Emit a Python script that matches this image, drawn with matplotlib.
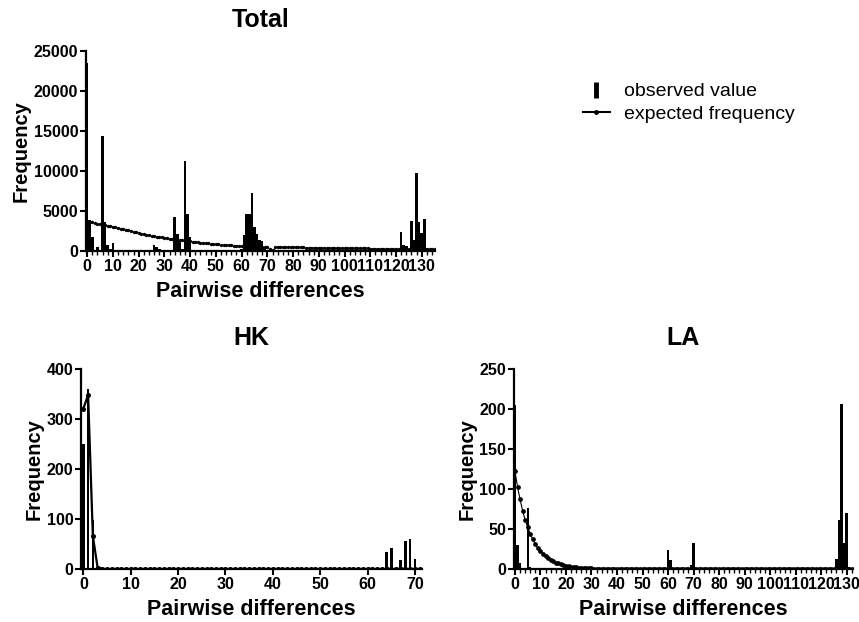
import matplotlib
matplotlib.use('Agg')
import matplotlib.pyplot as plt
from matplotlib.lines import Line2D
from matplotlib.ticker import MultipleLocator

plt.rcParams['font.family'] = ['Liberation Sans', 'DejaVu Sans']

# -----------------------------------------------------------------------
# Data
# -----------------------------------------------------------------------

# Total: observed mismatch counts (non-zero bars only)
total_x = [0, 1, 2, 3, 4, 5, 6, 7, 8, 9, 10, 11,
           26, 27, 28, 29,
           34, 35, 36, 37, 38, 39, 40,
           60, 61, 62, 63, 64, 65, 66, 67, 68, 69, 70,
           122, 123, 124, 125, 126, 127, 128, 129, 130, 131, 132, 133, 134, 135]
total_obs = [23500, 3900, 1750, 100, 500, 150, 14400, 3650, 750, 300, 950, 50,
             750, 450, 300, 100,
             4200, 2100, 1200, 200, 11300, 4600, 1800,
             300, 2000, 4650, 4650, 7250, 2950, 2150, 1350, 1250, 450, 100,
             2400, 750, 650, 200, 3700, 1350, 9750, 3650, 2200, 4050, 350, 150, 150, 150]

# Total: expected frequency at 0..135
total_exp = [3700, 3640, 3570, 3500, 3430, 3360, 3290, 3220, 3150, 3090,
             3030, 2960, 2880, 2800, 2720, 2640, 2560, 2480, 2400, 2320,
             2240, 2160, 2080, 2000, 1950, 1900, 1850, 1800, 1750, 1700,
             1650, 1600, 1550, 1500, 1450, 1410, 1370, 1330, 1290, 1250,
             1210, 1170, 1130, 1090, 1050, 1010, 970, 940, 910, 880,
             850, 820, 790, 760, 740, 720, 700, 680, 660, 640,
             620, 600, 580, 560, 540, 520, 505, 490, 475, 460,
             445, 300, 100, 450, 480, 480,
             470, 466, 462, 458, 454, 450, 446, 441, 436, 431,
             426, 421, 416, 411, 406, 401, 396, 391, 386, 381,
             376, 371, 366, 361, 356, 351, 346, 341, 336, 331,
             326, 321, 316, 311, 306, 301, 296, 291, 286, 281,
             276, 271, 266, 261, 256, 251, 246, 241, 236, 231,
             226, 222, 218, 214, 210, 206, 203, 200, 197, 194]
total_exp_x = list(range(len(total_exp)))

# HK
hk_x = [0, 1, 2, 3, 62, 63, 64, 65, 66, 67, 68, 69, 70]
hk_obs = [250, 361, 99, 5, 2, 3, 35, 43, 2, 18, 57, 60, 21]
hk_exp = [321, 348, 66, 3, 0, 0, 0, 0, 0, 0,
          0, 0, 0, 0, 0, 0, 0, 0, 0, 0,
          0, 0, 0, 0, 0, 0, 0, 0, 0, 0,
          0, 0, 0, 0, 0, 0, 0, 0, 0, 0,
          0, 0, 0, 0, 0, 0, 0, 0, 0, 0,
          0, 0, 0, 0, 0, 0, 0, 0, 0, 0,
          0, 0, 0, 0, 0, 0, 0, 0, 0, 0,
          0, 0]
hk_exp_x = list(range(len(hk_exp)))

# LA
la_x = [0, 1, 2, 5, 6, 60, 61, 69, 70, 126, 127, 128, 129, 130, 131]
la_obs = [205, 30, 7, 76, 3, 24, 11, 5, 33, 12, 61, 206, 32, 70, 2]
la_exp = [122, 103, 87, 73, 61, 52, 44, 37, 31, 26,
          22, 19, 16, 13.5, 11.4, 9.6, 8.1, 6.9, 5.8, 4.9,
          4.1, 3.5, 3.0, 2.5, 2.1, 1.8, 1.5, 1.3, 1.1, 0.9,
          0.8, 0.6, 0.5, 0.4, 0.3, 0.3, 0.2, 0.2, 0.1, 0.1,
          0, 0, 0, 0, 0, 0, 0, 0, 0, 0,
          0, 0, 0, 0, 0, 0, 0, 0, 0, 0,
          0, 0, 0, 0, 0, 0, 0, 0, 0, 0,
          0, 0, 0, 0, 0, 0, 0, 0, 0, 0,
          0, 0, 0, 0, 0, 0, 0, 0, 0, 0,
          0, 0, 0, 0, 0, 0, 0, 0, 0, 0,
          0, 0, 0, 0, 0, 0, 0, 0, 0, 0,
          0, 0, 0, 0, 0, 0, 0, 0, 0, 0,
          0, 0, 0, 0, 0, 0, 0, 0, 0, 0,
          0, 0, 0]
la_exp_x = list(range(len(la_exp)))


# -----------------------------------------------------------------------
# Plotting
# -----------------------------------------------------------------------

def style_axes(ax, title, xmax, ymax, ystep, minor=True):
    ax.set_title(title, fontsize=18, fontweight='bold', pad=17)
    ax.set_xlim(-0.5, xmax)
    ax.set_ylim(0, ymax)
    ax.xaxis.set_major_locator(MultipleLocator(10))
    if minor:
        ax.xaxis.set_minor_locator(MultipleLocator(2))
    ax.yaxis.set_major_locator(MultipleLocator(ystep))
    for side in ('top', 'right'):
        ax.spines[side].set_visible(False)
    for side in ('left', 'bottom'):
        ax.spines[side].set_linewidth(1.6)
    ax.tick_params(which='major', length=4, width=1.5, direction='out', pad=2)
    ax.tick_params(which='minor', length=3, width=1.0, direction='out')
    ax.tick_params(axis='y', pad=1.5)
    for lab in ax.get_xticklabels() + ax.get_yticklabels():
        lab.set_fontweight('bold')
        lab.set_fontsize(11.5)
    ax.set_xlabel("Pairwise differences", fontsize=15.5, fontweight='bold', labelpad=5)
    ax.set_ylabel("Frequency", fontsize=14.5, fontweight='bold', labelpad=2)


fig = plt.figure(figsize=(8.59, 6.22), dpi=100)

ax_t = fig.add_axes([0.100, 0.5965, 0.406, 0.3215])
ax_t.bar(total_x, total_obs, width=1.0, color='black', linewidth=0)
ax_t.plot(total_exp_x, total_exp, color='black', linewidth=0.7, linestyle=':',
          marker='o', markersize=1.4)
style_axes(ax_t, "Total", 135, 25000, 5000)

ax_h = fig.add_axes([0.0943, 0.0852, 0.397, 0.3215])
ax_h.bar(hk_x, hk_obs, width=0.55, color='black', linewidth=0)
ax_h.plot(hk_exp_x, hk_exp, color='black', linewidth=1.6,
          marker='o', markersize=2.6)
style_axes(ax_h, "HK", 71.5, 400, 100, minor=False)

ax_l = fig.add_axes([0.598, 0.0852, 0.395, 0.3215])
ax_l.bar(la_x, la_obs, width=0.9, color='black', linewidth=0)
ax_l.plot(la_exp_x, la_exp, color='black', linewidth=0.8,
          marker='o', markersize=2.4)
style_axes(ax_l, "LA", 132.5, 250, 50)

handles = [
    Line2D([], [], color='black', marker='|', linestyle='None',
           markersize=12, markeredgewidth=3.5),
    Line2D([], [], color='black', marker='o', linestyle='-',
           linewidth=1.5, markersize=2.5),
]
fig.legend(handles, ["observed value", "expected frequency"],
           loc='upper left', bbox_to_anchor=(0.658, 0.895),
           frameon=False, fontsize=14, handlelength=1.4,
           handletextpad=0.7, labelspacing=0.25)

fig.savefig("out.png", dpi=100)
